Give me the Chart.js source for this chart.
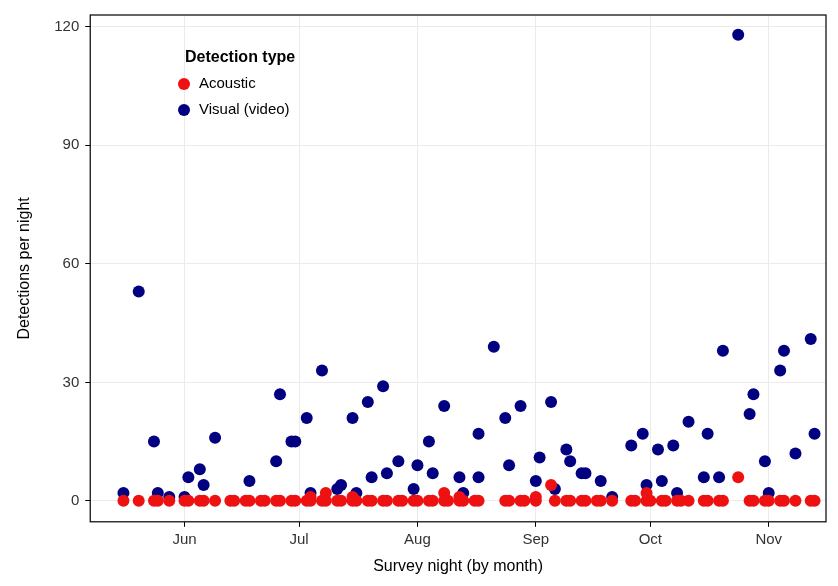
<!DOCTYPE html>
<html>
<head>
<meta charset="utf-8">
<script src="https://cdn.jsdelivr.net/npm/chart.js@4"></script>
<style>
  html, body { margin: 0; padding: 0; background: #fff; }
  #wrap { width: 838px; height: 586px; }
</style>
</head>
<body>
<div id="wrap"><canvas id="c"></canvas></div>
<script>
// Day-of-year of each survey night
const visualDays = [136,140,144,145,148,152,153,156,157,160,169,176,177,180,181,184,185,188,192,193,196,197,200,201,204,205,208,212,213,216,217,220,224,225,229,229,233,236,237,240,244,245,248,249,252,253,256,257,261,264,269,272,273,276,277,280,281,284,288,289,292,293,297,300,301,304,305,308,309,312,316,317];
const visualCounts = [2,53,15,2,1,1,6,8,4,16,5,10,27,15,15,21,2,33,3,4,21,2,25,6,29,7,10,3,9,15,7,24,6,2,17,6,39,21,9,24,5,11,25,3,13,10,7,7,5,1,14,17,4,13,5,14,2,20,6,17,6,38,118,22,27,10,2,33,38,12,41,17];

const acousticDays = [136,140,144,145,148,152,153,156,157,160,164,165,168,169,172,173,176,177,180,181,184,185,188,189,192,193,196,197,200,201,204,205,208,209,212,213,216,217,220,221,224,225,228,229,236,237,240,241,244,249,252,253,256,257,260,261,264,269,270,273,274,277,278,281,282,284,288,289,292,293,300,301,304,305,308,309,312,316,317,
  185,189,196,220,224,244,248,273,297];
const acousticCounts = [0,0,0,0,0,0,0,0,0,0,0,0,0,0,0,0,0,0,0,0,0,0,0,0,0,0,0,0,0,0,0,0,0,0,0,0,0,0,0,0,0,0,0,0,0,0,0,0,0,0,0,0,0,0,0,0,0,0,0,0,0,0,0,0,0,0,0,0,0,0,0,0,0,0,0,0,0,0,0,
  1,2,1,2,1,1,4,2,6];

const monthTicks = [152,182,213,244,274,305];
const monthLabels = ["Jun","Jul","Aug","Sep","Oct","Nov"];
const yTicks = [0,30,60,90,120];

const toPoints = (xs, ys) => xs.map((x, i) => ({ x: x, y: ys[i] }));
const FONT = "'Liberation Sans', Arial, sans-serif";

// legend drawn inside the panel, top-left
const insideLegend = {
  id: "insideLegend",
  afterDraw(chart) {
    const ctx = chart.ctx;
    ctx.save();
    ctx.fillStyle = "#000";
    ctx.textBaseline = "middle";
    ctx.font = "bold 16px " + FONT;
    ctx.fillText("Detection type", 185, 58);
    ctx.font = "15px " + FONT;
    chart.data.datasets.forEach((ds, i) => {
      const y = 84 + i * 26;
      ctx.beginPath();
      ctx.arc(184, y, 6, 0, Math.PI * 2);
      ctx.fillStyle = ds.backgroundColor;
      ctx.fill();
      ctx.fillStyle = "#000";
      ctx.fillText(ds.label, 199, y);
    });
    ctx.restore();
  }
};

const frame = {
  id: "frame",
  afterDatasetsDraw(chart) {
    const a = chart.chartArea, ctx = chart.ctx;
    ctx.save();
    ctx.strokeStyle = "#000";
    ctx.lineWidth = 1.2;
    ctx.strokeRect(a.left, a.top, a.right - a.left, a.bottom - a.top);
    ctx.restore();
  }
};

new Chart(document.getElementById("c"), {
  type: "scatter",
  data: {
    datasets: [
      { label: "Acoustic", data: toPoints(acousticDays, acousticCounts), backgroundColor: "#ee1111", borderWidth: 0, pointRadius: 6, order: 1 },
      { label: "Visual (video)", data: toPoints(visualDays, visualCounts), backgroundColor: "#000080", borderWidth: 0, pointRadius: 6, order: 2 }
    ]
  },
  options: {
    responsive: true,
    maintainAspectRatio: false,
    animation: false,
    layout: { padding: { top: 7, right: 12, left: 11, bottom: 6 } },
    plugins: { legend: { display: false }, tooltip: { enabled: false } },
    scales: {
      x: {
        type: "linear",
        min: 127.3,
        max: 320,
        afterBuildTicks: (s) => { s.ticks = monthTicks.map(v => ({ value: v })); },
        ticks: {
          callback: (v) => monthLabels[monthTicks.indexOf(v)],
          color: "#333", font: { size: 15, family: FONT }, padding: 4
        },
        grid: { color: "#ebebeb", tickColor: "#000", tickLength: 5 },
        border: { display: false },
        title: { display: true, text: "Survey night (by month)", color: "#000", font: { size: 16, family: FONT }, padding: { top: 4 } }
      },
      y: {
        min: -5.3,
        max: 123,
        afterBuildTicks: (s) => { s.ticks = yTicks.map(v => ({ value: v })); },
        ticks: { color: "#333", font: { size: 15, family: FONT }, padding: 6 },
        grid: { color: "#ebebeb", tickColor: "#000", tickLength: 5 },
        border: { display: false },
        title: { display: true, text: "Detections per night", color: "#000", font: { size: 16, family: FONT }, padding: { bottom: 14 } }
      }
    }
  },
  plugins: [insideLegend, frame]
});
</script>
</body>
</html>
